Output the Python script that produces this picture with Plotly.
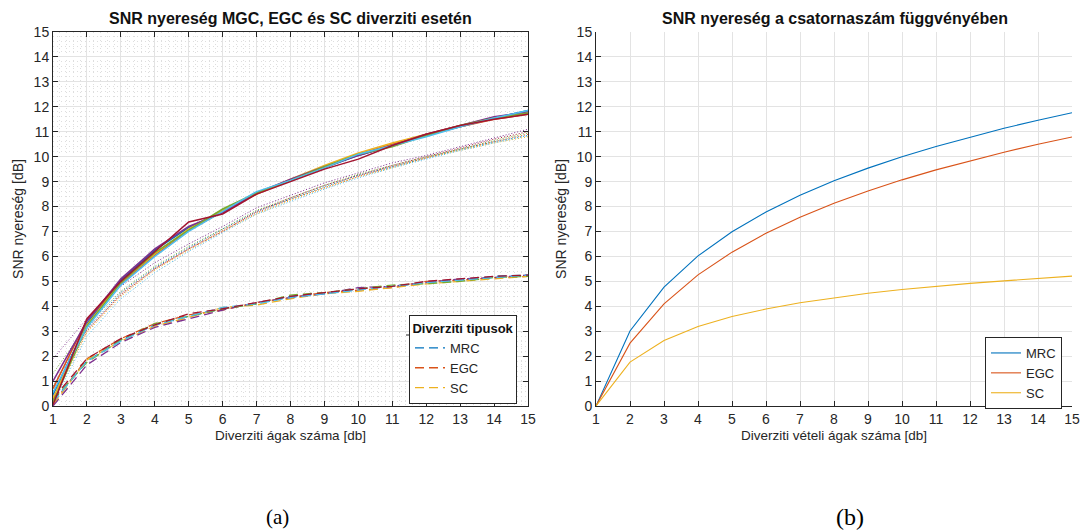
import plotly.graph_objects as go

W, H = 1084, 530

branches = list(range(1, 16))
x_ticks = list(range(1, 16))
y_ticks = list(range(0, 16))

run_colors = ["#0072BD", "#D95319", "#EDB120", "#7E2F8E", "#77AC30", "#4DBEEE", "#A2142F"]

# (a) simulated runs
mrc_runs = [
    [0.45, 3.30, 5.05, 6.25, 7.15, 7.80, 8.55, 9.05, 9.55, 10.05, 10.45, 10.85, 11.20, 11.55, 11.85],
    [0.70, 3.45, 4.90, 6.05, 7.05, 7.80, 8.50, 9.05, 9.55, 10.10, 10.50, 10.90, 11.20, 11.50, 11.70],
    [0.30, 3.25, 4.95, 6.10, 7.10, 7.85, 8.50, 9.10, 9.65, 10.15, 10.55, 10.90, 11.25, 11.55, 11.75],
    [1.00, 3.40, 5.10, 6.30, 7.20, 7.75, 8.55, 9.10, 9.60, 10.05, 10.45, 10.90, 11.25, 11.60, 11.80],
    [0.15, 3.20, 4.95, 6.15, 7.05, 7.90, 8.55, 9.05, 9.60, 10.10, 10.40, 10.85, 11.25, 11.55, 11.75],
    [0.55, 3.15, 4.85, 6.00, 7.00, 7.80, 8.60, 9.05, 9.55, 10.10, 10.45, 10.80, 11.20, 11.55, 11.85],
    [0.05, 3.50, 5.00, 6.20, 7.38, 7.70, 8.50, 9.00, 9.50, 9.90, 10.45, 10.90, 11.25, 11.50, 11.70],
]
egc_runs = [
    [0.80, 3.10, 4.55, 5.55, 6.35, 7.10, 7.80, 8.30, 8.80, 9.25, 9.60, 9.95, 10.30, 10.60, 10.85],
    [0.40, 3.00, 4.50, 5.50, 6.30, 7.05, 7.75, 8.30, 8.75, 9.20, 9.60, 9.95, 10.30, 10.60, 10.90],
    [0.20, 2.95, 4.40, 5.45, 6.25, 7.00, 7.70, 8.25, 8.75, 9.20, 9.55, 9.95, 10.25, 10.55, 10.80],
    [1.90, 3.50, 4.80, 5.75, 6.50, 7.20, 7.95, 8.45, 8.95, 9.35, 9.75, 10.05, 10.40, 10.75, 11.10],
    [1.30, 3.25, 4.60, 5.60, 6.40, 7.10, 7.85, 8.35, 8.85, 9.30, 9.65, 10.00, 10.30, 10.65, 10.95],
    [0.10, 2.80, 4.30, 5.35, 6.20, 6.95, 7.70, 8.20, 8.70, 9.15, 9.55, 9.90, 10.25, 10.55, 10.85],
    [0.60, 3.05, 4.45, 5.50, 6.30, 7.00, 7.80, 8.35, 8.85, 9.25, 9.65, 10.00, 10.35, 10.70, 11.00],
]
sc_runs = [
    [0.20, 1.80, 2.65, 3.25, 3.60, 3.90, 4.10, 4.40, 4.50, 4.70, 4.80, 4.95, 5.05, 5.20, 5.25],
    [0.10, 1.90, 2.70, 3.30, 3.65, 3.85, 4.15, 4.35, 4.55, 4.65, 4.75, 5.00, 5.05, 5.15, 5.20],
    [0.05, 1.85, 2.60, 3.20, 3.55, 3.95, 4.05, 4.30, 4.50, 4.60, 4.75, 4.90, 5.00, 5.10, 5.20],
    [0.00, 1.65, 2.55, 3.15, 3.50, 3.85, 4.15, 4.35, 4.50, 4.75, 4.80, 4.95, 5.10, 5.15, 5.25],
    [0.25, 1.75, 2.65, 3.30, 3.60, 3.90, 4.10, 4.45, 4.55, 4.70, 4.85, 4.90, 5.00, 5.15, 5.20],
    [0.15, 1.80, 2.60, 3.25, 3.60, 3.95, 4.10, 4.35, 4.50, 4.65, 4.80, 4.95, 5.05, 5.15, 5.25],
    [0.30, 1.90, 2.70, 3.25, 3.70, 3.90, 4.15, 4.40, 4.55, 4.70, 4.80, 5.00, 5.10, 5.20, 5.25],
]
legend_a_names = ["MRC", "EGC", "SC"]

# (b) theoretical curves
mrc_b = [0.00, 3.01, 4.77, 6.02, 6.99, 7.78, 8.45, 9.03, 9.54, 10.00, 10.41, 10.79, 11.14, 11.46, 11.76]
egc_b = [0.00, 2.52, 4.10, 5.26, 6.17, 6.93, 7.57, 8.13, 8.62, 9.07, 9.47, 9.84, 10.18, 10.50, 10.79]
sc_b = [0.00, 1.76, 2.63, 3.19, 3.59, 3.89, 4.14, 4.34, 4.52, 4.67, 4.80, 4.92, 5.02, 5.12, 5.21]
b_names = ["MRC", "EGC", "SC"]
b_colors = ["#0072BD", "#D95319", "#EDB120"]

FONT = "Liberation Sans, Arial, Helvetica, sans-serif"
SERIF = "Liberation Serif, Times New Roman, serif"
TXT = "#262626"

fig = go.Figure()

for i, ys in enumerate(egc_runs):
    fig.add_trace(go.Scatter(x=branches, y=ys, mode="lines", xaxis="x", yaxis="y",
                             line=dict(color=run_colors[i], width=1, dash="1px,2px"),
                             showlegend=False, hoverinfo="skip"))
for i, ys in enumerate(sc_runs):
    fig.add_trace(go.Scatter(x=branches, y=ys, mode="lines", xaxis="x", yaxis="y",
                             line=dict(color=run_colors[i], width=1.3, dash="9px,5px"),
                             name=legend_a_names[i] if i < 3 else None,
                             showlegend=i < 3, legend="legend", hoverinfo="skip"))
for i, ys in enumerate(mrc_runs):
    fig.add_trace(go.Scatter(x=branches, y=ys, mode="lines", xaxis="x", yaxis="y",
                             line=dict(color=run_colors[i], width=1.5),
                             showlegend=False, hoverinfo="skip"))

for name, ys, col in zip(b_names, [mrc_b, egc_b, sc_b], b_colors):
    fig.add_trace(go.Scatter(x=branches, y=ys, mode="lines", xaxis="x2", yaxis="y2",
                             line=dict(color=col, width=1.1), name=name,
                             legend="legend2", hoverinfo="skip"))

def px_x(p):
    return p / W

def px_y(p):
    return 1 - p / H

common_tick = dict(tickfont=dict(family=FONT, size=14, color=TXT), ticks="inside",
                   ticklen=5, tickcolor=TXT, linecolor=TXT, linewidth=1, showline=True,
                   zeroline=False, gridcolor="#e3e3e3", gridwidth=1, automargin=False)

minor_grid = dict(dtick=0.2, showgrid=True, gridcolor="#dedede", griddash="1px,3px", gridwidth=1)
xlab_font = dict(family=FONT, size=13.5, color=TXT)
ylab_font = dict(family=FONT, size=14, color=TXT)

fig.update_layout(
    width=W, height=H, margin=dict(l=0, r=0, t=0, b=0, autoexpand=False),
    paper_bgcolor="white", plot_bgcolor="white",
    font=dict(family=FONT, size=13, color=TXT),
    xaxis=dict(domain=[px_x(53), px_x(528)], range=[1, 15], tickvals=x_ticks, mirror="ticks",
               anchor="y", minor=minor_grid,
               title=dict(text="Diverziti ágak száma [db]", font=xlab_font, standoff=4),
               **common_tick),
    yaxis=dict(domain=[px_y(406), px_y(32)], range=[0, 15], tickvals=y_ticks, mirror="ticks",
               anchor="x", minor=minor_grid,
               title=dict(text="SNR nyereség [dB]", font=ylab_font, standoff=6),
               **common_tick),
    xaxis2=dict(domain=[px_x(596), px_x(1072)], range=[1, 15], tickvals=x_ticks, anchor="y2",
                title=dict(text="Diverziti vételi ágak száma [db]", font=xlab_font, standoff=4),
                **common_tick),
    yaxis2=dict(domain=[px_y(406), px_y(32)], range=[0, 15], tickvals=y_ticks, anchor="x2",
                title=dict(text="SNR nyereség [dB]", font=ylab_font, standoff=6),
                **common_tick),
    legend=dict(x=px_x(517), y=px_y(315), xanchor="right", yanchor="top",
                bgcolor="white", bordercolor=TXT, borderwidth=1,
                font=dict(family=FONT, size=13, color=TXT),
                title=dict(text="<b>Diverziti tipusok</b>", side="top center",
                           font=dict(family=FONT, size=13, color="#111111")),
                tracegroupgap=0, itemwidth=30),
    legend2=dict(x=px_x(1062), y=px_y(337), xanchor="right", yanchor="top",
                 bgcolor="white", bordercolor=TXT, borderwidth=1,
                 font=dict(family=FONT, size=13, color=TXT), tracegroupgap=0, itemwidth=30),
    showlegend=True,
)

fig.add_annotation(text="<b>SNR nyereség MGC, EGC és SC diverziti esetén</b>",
                   x=px_x(290), y=px_y(19), xref="paper", yref="paper", showarrow=False,
                   xanchor="center", yanchor="middle",
                   font=dict(family=FONT, size=16, color="#111111"))
fig.add_annotation(text="<b>SNR nyereség a csatornaszám függvényében</b>",
                   x=px_x(835), y=px_y(19), xref="paper", yref="paper", showarrow=False,
                   xanchor="center", yanchor="middle",
                   font=dict(family=FONT, size=16, color="#111111"))
fig.add_annotation(text="(a)", x=px_x(277), y=px_y(517), xref="paper", yref="paper",
                   showarrow=False, xanchor="center", yanchor="middle",
                   font=dict(family=SERIF, size=21, color="black"))
fig.add_annotation(text="(b)", x=px_x(850), y=px_y(517), xref="paper", yref="paper",
                   showarrow=False, xanchor="center", yanchor="middle",
                   font=dict(family=SERIF, size=24, color="black"))

# separator under legend title
fig.add_shape(type="line", xref="paper", yref="paper", x0=px_x(406), x1=px_x(517),
              y0=px_y(335), y1=px_y(335), line=dict(color=TXT, width=1), layer="above")

fig.write_html("out.html", config={"displayModeBar": False},
               post_script="document.body.style.margin='0';document.body.style.overflow='hidden';")
